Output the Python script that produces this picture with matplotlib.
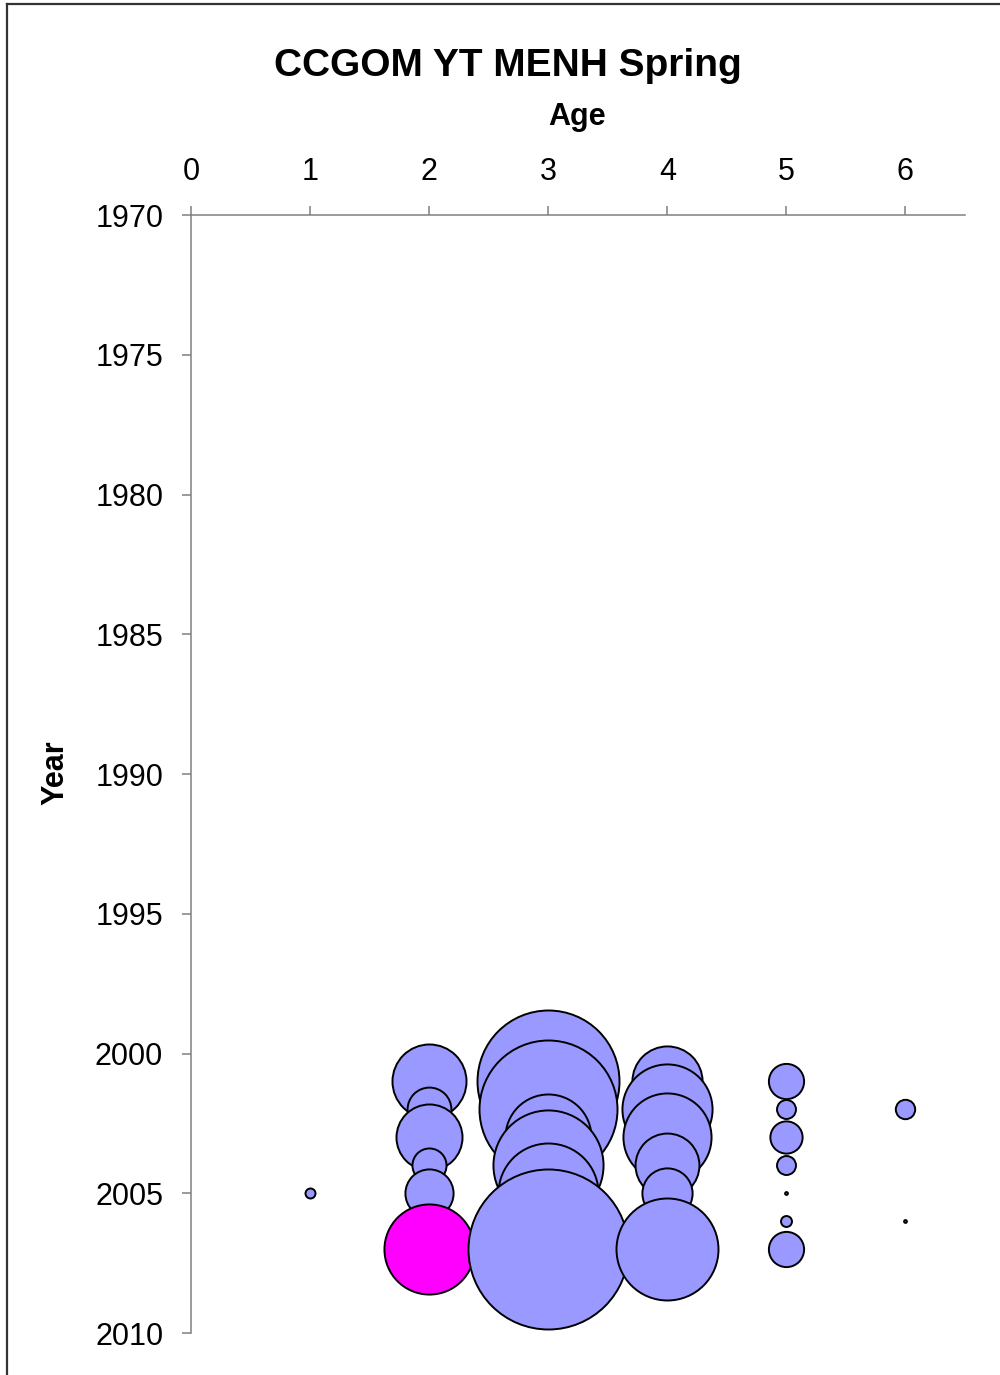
import matplotlib
matplotlib.use("Agg")
from matplotlib import pyplot as plt
from matplotlib.lines import Line2D

plt.rcParams['font.family'] = ['Liberation Sans', 'DejaVu Sans']

# survey index at age, by year (bubble area ~ value)
years = [2001, 2002, 2003, 2004, 2005, 2006, 2007]
age1 = [0, 0, 0, 0, 0.25, 0, 0]
age2 = [13.7, 4.8, 10.9, 2.9, 5.8, 0, 20.3]
age3 = [50.4, 47.6, 18.5, 30.3, 25.0, 0, 64.0]
age4 = [12.3, 20.3, 19.4, 10.2, 6.3, 0, 26.0]
age5 = [3.1, 0.9, 2.6, 0.9, 0.02, 0.3, 3.1]
age6 = [0, 0.94, 0, 0, 0, 0.02, 0]
ages = [1, 2, 3, 4, 5, 6]
by_age = [age1, age2, age3, age4, age5, age6]

# highlighted cohort point
hl_age = 2
hl_year = 2007

blue = "#9999FF"
magenta = "#FF00FF"
scale = 207.4

fig = plt.figure(figsize=(10, 13.75), dpi=100)
ax = fig.add_axes([0.191, 1 - 1333 / 1375, 0.774, (1333 - 215) / 1375])

for a, vals in zip(ages, by_age):
    for y, v in zip(years, vals):
        if v <= 0:
            continue
        c = magenta if (a == hl_age and y == hl_year) else blue
        ax.scatter(a, y, s=v * scale, c=c, edgecolors="black",
                   linewidths=1.4, clip_on=False, zorder=3)

ax.set_xlim(0, 6.5)
ax.set_ylim(2010, 1970)
ax.set_xticks(range(0, 7))
ax.set_yticks(range(1970, 2011, 5))
ax.xaxis.tick_top()
ax.spines['right'].set_visible(False)
ax.spines['bottom'].set_visible(False)
for s in ['top', 'left']:
    ax.spines[s].set_color("#808080")
    ax.spines[s].set_linewidth(1.1)
ax.tick_params(axis='x', direction='out', length=6.5, width=1.1, color="#808080",
               pad=13.5, labelsize=22)
ax.tick_params(axis='y', direction='out', length=6.5, width=1.1, color="#808080",
               pad=13.5, labelsize=22)

fig.text(0.508, 1 - 66 / 1375, "CCGOM YT MENH Spring", ha="center", va="center",
         fontsize=28, fontweight="bold")
fig.text(0.577, 1 - 117 / 1375, "Age", ha="center", va="center",
         fontsize=22, fontweight="bold")
fig.text(0.055, 1 - 773 / 1375, "Year", ha="center", va="center",
         fontsize=22, fontweight="bold", rotation=90)

# outer chart frame
fig.add_artist(Line2D([0.007, 0.007], [0, 1 - 4 / 1375], color="#333333", lw=1.6))
fig.add_artist(Line2D([0.007, 1], [1 - 4 / 1375, 1 - 4 / 1375], color="#333333", lw=1.6))

fig.savefig("out.png", dpi=100)
